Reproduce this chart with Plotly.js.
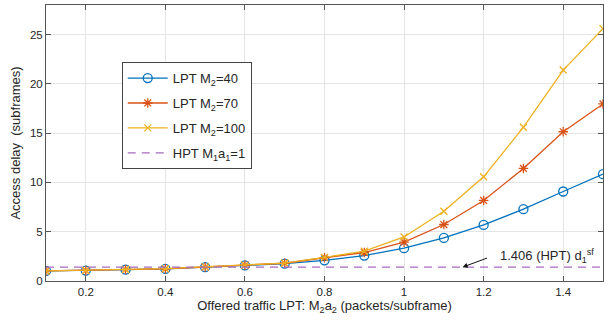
<!DOCTYPE html>
<html>
<head>
<meta charset="utf-8">
<script src="https://cdn.plot.ly/plotly-3.0.1.min.js"></script>
<style>html,body{margin:0;padding:0;background:#fff;}#chart{width:604px;height:330px;}</style>
</head>
<body>
<div id="chart"></div>
<script>
const traffic = [0.1,0.2,0.3,0.4,0.5,0.6,0.7,0.8,0.9,1.0,1.1,1.2,1.3,1.4,1.5];
const lptM40  = [1.02,1.06,1.15,1.22,1.40,1.58,1.76,2.10,2.58,3.33,4.37,5.69,7.29,9.08,10.84];
const lptM70  = [1.02,1.07,1.17,1.24,1.42,1.60,1.80,2.36,2.89,3.94,5.73,8.17,11.42,15.14,17.96];
const lptM100 = [1.02,1.07,1.17,1.25,1.43,1.61,1.82,2.40,3.02,4.47,7.08,10.57,15.60,21.40,25.60];
const hptDelay = 1.406;
const hptX = [0.1, 1.5];
const names = ['LPT M<sub>2</sub>=40','LPT M<sub>2</sub>=70','LPT M<sub>2</sub>=100','HPT M<sub>1</sub>a<sub>1</sub>=1'];
const annText = '1.406 (HPT) d<sub>1</sub><sup>sf</sup>';

const font = 'Liberation Sans, Arial, Helvetica, sans-serif';
const traces = [
  {x: traffic, y: lptM40, name: names[0], legendgroup:'a', mode:'lines+markers',
   line:{color:'#0072BD', width:1.3}, marker:{symbol:'circle-open', size:9, color:'#0072BD', line:{width:1.3}}},
  {x: traffic, y: lptM70, name: names[1], legendgroup:'b', mode:'lines+markers',
   line:{color:'#D95319', width:1.3}, marker:{symbol:'asterisk-open', size:8, color:'#D95319', line:{width:1.3, color:'#D95319'}}},
  {x: traffic, y: lptM100, name: names[2], legendgroup:'c', mode:'lines+markers',
   line:{color:'#EDB120', width:1.3}, marker:{symbol:'x-thin-open', size:7, color:'#EDB120', line:{width:1.3, color:'#EDB120'}}},
  {x: hptX, y: hptX.map(()=>hptDelay), name: names[3], legendgroup:'d', mode:'lines',
   line:{color:'#A66BBE', width:1.3, dash:'8px,6px'}}
];
const axisCommon = {
  showline:true, mirror:'ticks', linecolor:'#555', linewidth:1,
  ticks:'inside', ticklen:5, tickcolor:'#555', tickwidth:1,
  showgrid:true, gridcolor:'#e5e5e5', gridwidth:1, zeroline:false,
  tickfont:{family:font, size:11.5, color:'#262626'}
};
const layout = {
  width:604, height:330,
  margin:{l:46, r:1, t:5, b:49},
  paper_bgcolor:'#fff', plot_bgcolor:'#fff',
  font:{family:font, color:'#262626'},
  showlegend:true,
  legend:{x:0.136, y:0.793, xanchor:'left', yanchor:'top', bgcolor:'#fff',
    bordercolor:'#444', borderwidth:1, font:{family:font, size:13, color:'#262626'},
    tracegroupgap:5, itemwidth:40},
  xaxis: Object.assign({}, axisCommon, {range:[0.1,1.5], tick0:0, dtick:0.2,
    title:{text:'Offered traffic LPT: M<sub>2</sub>a<sub>2</sub> (packets/subframe)', font:{family:font, size:13, color:'#262626'}, standoff:4}}),
  yaxis: Object.assign({}, axisCommon, {range:[0,28], tick0:0, dtick:5,
    title:{text:'Access delay  (subframes)', font:{family:font, size:13, color:'#262626'}, standoff:6}}),
  annotations:[
    {x:1.147, y:hptDelay, ax:1.216, ay:2.44, axref:'x', ayref:'y', xref:'x', yref:'y',
     text:' ', showarrow:true, arrowhead:2, arrowsize:1, arrowwidth:1, arrowcolor:'#111'},
    {x:1.236, y:2.55, xref:'x', yref:'y', text:annText, showarrow:false, xanchor:'left', yanchor:'middle',
     font:{family:font, size:13, color:'#262626'}}
  ]
};
Plotly.newPlot('chart', traces, layout, {displayModeBar:false, staticPlot:true});
</script>
</body>
</html>
